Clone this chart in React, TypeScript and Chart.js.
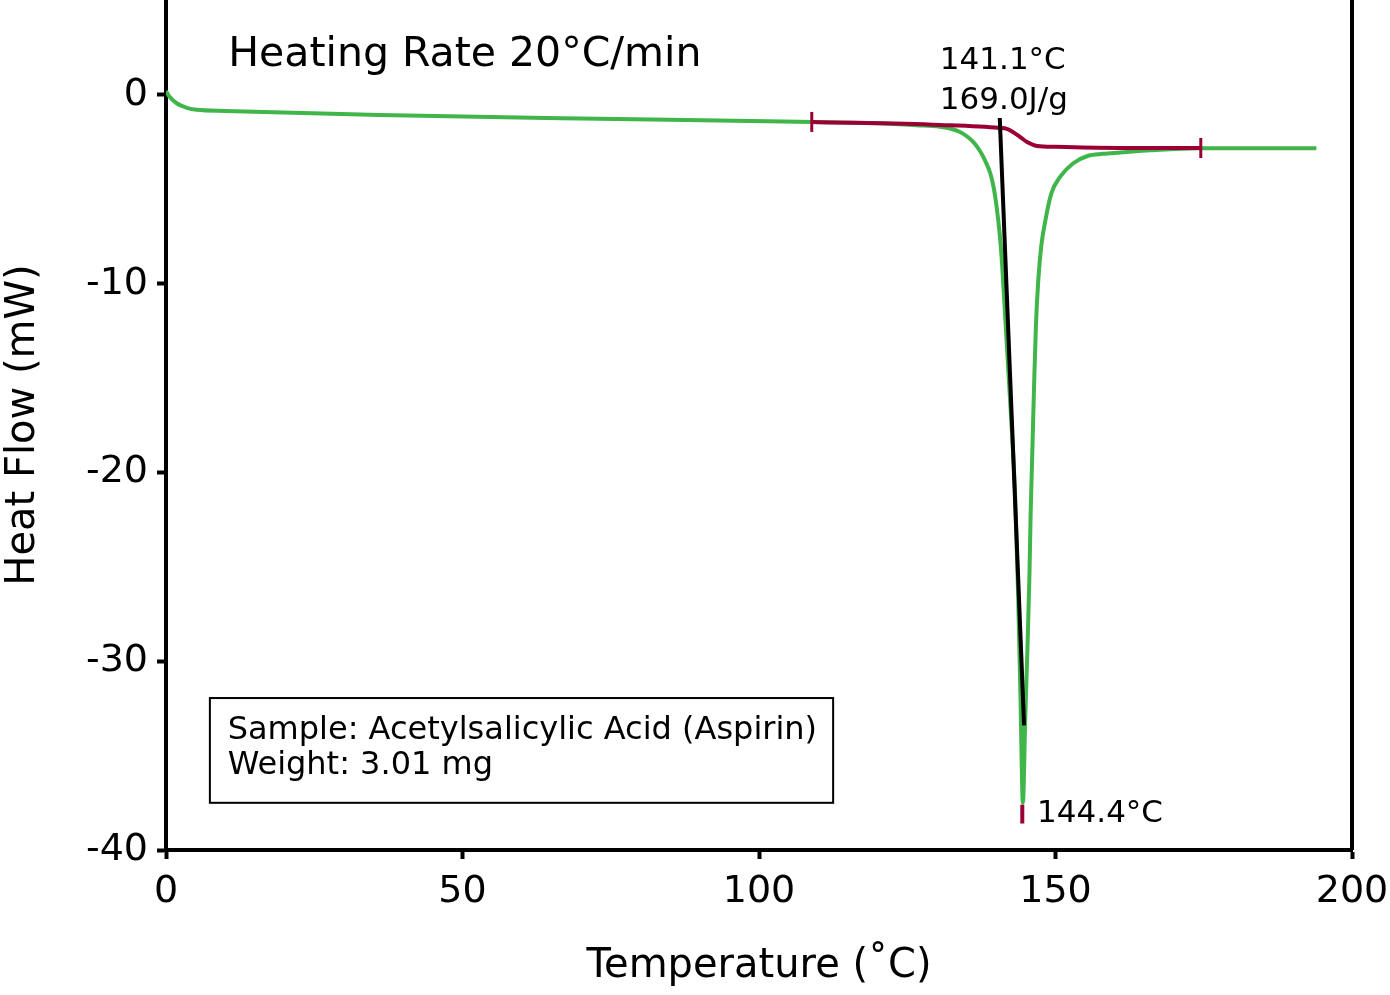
import React, { useEffect, useRef } from "react";
import { Chart, registerables } from "chart.js";

Chart.register(...registerables);

// Heat flow curve (green)
const heatFlowT = [0, 0.5, 1.8, 3.5, 5.2, 10, 36, 70, 98.5, 109, 120, 126.6, 130.5, 132.2, 133.9, 135.1, 136.0, 136.8, 137.6, 138.3, 139.0, 139.6, 140.1, 140.6, 141.0, 141.4, 141.8, 142.5, 143.2, 143.7, 144.1, 144.5, 144.9, 145.3, 145.6, 145.8, 146.1, 146.4, 146.7, 147.1, 147.6, 148.2, 149.3, 150.8, 153.0, 155.5, 158.0, 160.9, 166, 174.4, 194.0];
const heatFlowMW = [0.2, -0.05, -0.44, -0.68, -0.79, -0.85, -1.06, -1.25, -1.38, -1.43, -1.5, -1.6, -1.68, -1.78, -1.96, -2.2, -2.45, -2.75, -3.15, -3.6, -4.15, -4.95, -6.0, -7.4, -9.0, -11.1, -13.3, -17.0, -21.3, -26.5, -32.0, -37.5, -33.0, -29.0, -25.5, -22.3, -18.8, -15.27, -12.2, -9.8, -8.0, -6.8, -5.21, -4.33, -3.62, -3.22, -3.12, -3.05, -2.93, -2.82, -2.82];

// Integration baseline (red)
const baselineT = [108.9, 130.5, 140.6, 141.8, 142.8, 144.0, 145.2, 146.9, 150, 160.9, 174.5];
const baselineMW = [-1.43, -1.59, -1.75, -1.8, -1.96, -2.22, -2.49, -2.70, -2.75, -2.81, -2.81];

// Onset tangent (black)
const tangentT = [140.6, 144.7];
const tangentMW = [-1.22, -33.4];

// Peak marker (red)
const peakMarkT = [144.4, 144.4];
const peakMarkMW = [-37.6, -38.6];

const xTicks = [0, 50, 100, 150, 200];
const yTicks = [-40, -30, -20, -10, 0];

const titleText = "Heating Rate 20°C/min";
const onsetText = "141.1°C";
const enthalpyText = "169.0J/g";
const peakText = "144.4°C";
const sampleLines = ["Sample: Acetylsalicylic Acid (Aspirin)", "Weight: 3.01 mg"];

const GREEN = "#3fb54a";
const RED = "#9a0036";
const FONT = "'DejaVu Sans', sans-serif";

const toPts = (xs: number[], ys: number[]) => xs.map((x, i) => ({ x, y: ys[i] }));

const annotationPlugin = {
  id: "annotations",
  afterDraw(chart: any) {
    const { ctx, chartArea, scales } = chart;
    const xs = scales.x;
    const ys = scales.y;
    ctx.save();
    // right frame line
    ctx.strokeStyle = "#000";
    ctx.lineWidth = 4;
    ctx.beginPath();
    ctx.moveTo(chartArea.right, chartArea.top);
    ctx.lineTo(chartArea.right, chartArea.bottom);
    ctx.stroke();

    ctx.fillStyle = "#000";
    ctx.textBaseline = "alphabetic";
    ctx.textAlign = "left";

    ctx.font = `41px ${FONT}`;
    ctx.fillText(titleText, xs.getPixelForValue(10.5), ys.getPixelForValue(1.55));

    ctx.font = `31px ${FONT}`;
    ctx.fillText(onsetText, xs.getPixelForValue(130.5), ys.getPixelForValue(1.37));
    ctx.fillText(enthalpyText, xs.getPixelForValue(130.5), ys.getPixelForValue(-0.75));
    ctx.fillText(peakText, xs.getPixelForValue(146.9), ys.getPixelForValue(-38.5));

    // sample box
    const bx0 = xs.getPixelForValue(7.4);
    const bx1 = xs.getPixelForValue(112.5);
    const by0 = ys.getPixelForValue(-31.95);
    const by1 = ys.getPixelForValue(-37.5);
    ctx.lineWidth = 2;
    ctx.strokeRect(bx0, by0, bx1 - bx0, by1 - by0);
    ctx.font = `32px ${FONT}`;
    ctx.fillText(sampleLines[0], xs.getPixelForValue(10.4), ys.getPixelForValue(-34.1));
    ctx.fillText(sampleLines[1], xs.getPixelForValue(10.4), ys.getPixelForValue(-35.95));
    ctx.restore();
  },
};

export default function App() {
  const ref = useRef<HTMLCanvasElement>(null);
  useEffect(() => {
    if (!ref.current) return;
    const lastBase = baselineT.length - 1;
    const chart = new Chart(ref.current, {
      type: "line",
      data: {
        datasets: [
          {
            data: toPts(tangentT, tangentMW),
            borderColor: "#000",
            borderWidth: 4,
            pointRadius: 0,
            tension: 0,
          },
          {
            data: toPts(peakMarkT, peakMarkMW),
            borderColor: RED,
            borderWidth: 4,
            pointRadius: 0,
            tension: 0,
          },
          {
            data: toPts(baselineT, baselineMW),
            borderColor: RED,
            borderWidth: 4,
            cubicInterpolationMode: "monotone",
            pointStyle: "line",
            rotation: 90,
            pointRadius: (c: any) => (c.dataIndex === 0 || c.dataIndex === lastBase ? 10 : 0),
            pointBorderWidth: 3,
            pointBorderColor: RED,
            pointBackgroundColor: RED,
          },
          {
            data: toPts(heatFlowT, heatFlowMW),
            borderColor: GREEN,
            borderWidth: 4,
            pointRadius: 0,
            cubicInterpolationMode: "monotone",
          },
        ],
      },
      options: {
        animation: false,
        responsive: false,
        events: [],
        layout: { autoPadding: false, padding: { top: 0, right: 38, left: 0, bottom: 0 } },
        plugins: { legend: { display: false }, tooltip: { enabled: false } },
        scales: {
          x: {
            type: "linear",
            min: 0,
            max: 200,
            afterBuildTicks: (s: any) => { s.ticks = xTicks.map((v) => ({ value: v })); },
            afterFit: (s: any) => { s.height = 145; s.paddingLeft = 0; s.paddingRight = 0; },
            border: { display: true, color: "#000", width: 4 },
            grid: { drawOnChartArea: false, drawTicks: true, tickLength: 9, tickWidth: 4, tickColor: "#000" },
            ticks: { color: "#000", font: { family: FONT, size: 38 }, padding: 10, maxRotation: 0 },
            title: { display: true, text: "Temperature (˚C)", color: "#000", font: { family: FONT, size: 40 }, padding: { top: 0, bottom: 4 } },
          },
          y: {
            type: "linear",
            min: -40,
            max: 5.03,
            afterBuildTicks: (s: any) => { s.ticks = yTicks.map((v) => ({ value: v })); },
            afterFit: (s: any) => { s.width = 166; s.paddingTop = 0; s.paddingBottom = 0; },
            border: { display: true, color: "#000", width: 4 },
            grid: { drawOnChartArea: false, drawTicks: true, tickLength: 9, tickWidth: 4, tickColor: "#000" },
            ticks: { color: "#000", font: { family: FONT, size: 38 }, padding: 9 },
            title: { display: true, text: "Heat Flow (mW)", color: "#000", font: { family: FONT, size: 40 }, padding: { top: 0, bottom: 0 } },
          },
        },
      },
      plugins: [annotationPlugin],
    } as any);
    return () => chart.destroy();
  }, []);
  return (
    <div style={{ position: "absolute", left: 0, top: 0, width: 1390, height: 995, background: "#fff" }}>
      <canvas ref={ref} width={1390} height={995} style={{ width: 1390, height: 995, display: "block" }} />
    </div>
  );
}
